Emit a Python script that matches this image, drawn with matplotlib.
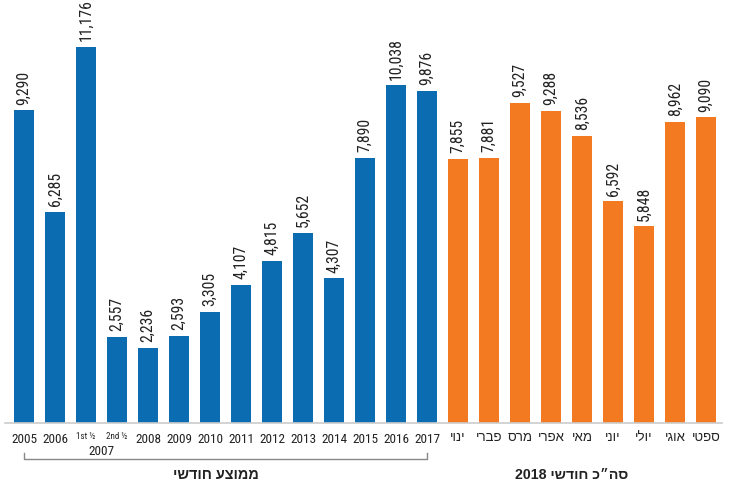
import numpy as np
import matplotlib
matplotlib.use("Agg")
import matplotlib.pyplot as plt
import matplotlib.transforms as mtrans
from matplotlib import font_manager as fm

# monthly averages per year (blue) and 2018 months (orange)
years = ["2005", "2006", "1st ½", "2nd ½", "2008", "2009", "2010", "2011",
         "2012", "2013", "2014", "2015", "2016", "2017"]
avg_vals = [9290, 6285, 11176, 2557, 2236, 2593, 3305, 4107,
            4815, 5652, 4307, 7890, 10038, 9876]
months = ["ינוי", "פברי", "מרס", "אפרי", "מאי", "יוני", "יולי", "אוגי", "ספטי"]
month_vals = [7855, 7881, 9527, 9288, 8536, 6592, 5848, 8962, 9090]
half_year = "2007"
title_avg = "ממוצע חודשי"
title_2018 = "סה״כ חודשי 2018"

BLUE = "#0b6cb2"
ORANGE = "#f47a22"
TXT = "#222222"
HEB = {"family": ["Liberation Sans", "DejaVu Sans"]}


def pick_narrow():
    fl = fm.fontManager.ttflist
    names = {f.name for f in fl}
    for n in ["Roboto Condensed", "Liberation Sans Narrow", "Noto Sans Condensed",
              "Open Sans Condensed", "DejaVu Sans Condensed", "Arial Narrow"]:
        if n in names:
            return {"family": [n, "DejaVu Sans"]}
    for f in fl:
        if "Condensed" in f.name or "Narrow" in f.name:
            return {"family": [f.name, "DejaVu Sans"]}
    return {"family": ["DejaVu Sans"]}


NARROW = pick_narrow()


def vis(s):
    # matplotlib has no bidi, so flip hebrew words into visual order
    out = []
    for w in reversed(s.split(" ")):
        if any("\u0590" <= c <= "\u05ff" for c in w):
            out.append(w[::-1])
        else:
            out.append(w)
    return " ".join(out)


W, H = 734, 486
fig = plt.figure(figsize=(W / 100, H / 100), dpi=100)
renderer = fig.canvas.get_renderer()


def fit(s, px, cap, props, **kw):
    t = fig.text(0, 0, s, fontsize=10, **props, **kw)
    w = t.get_window_extent(renderer).width
    t.remove()
    return min(cap, 10 * px / w)


fs_val = fit("6,592", 34, 12, NARROW)
fs_t1 = fit(vis(title_avg), 86, 12, HEB, fontweight="bold")
fs_t2 = fit(vis(title_2018), 113, 12, HEB, fontweight="bold")
fs_tick = 9.5

base = 423
ax = fig.add_axes([5 / W, (H - base) / H, (722 - 5) / W, base / H])

n1 = len(avg_vals)
x1 = np.arange(n1)
x2 = np.arange(n1, n1 + len(month_vals))
ax.bar(x1, avg_vals, width=0.645, color=BLUE)
ax.bar(x2, month_vals, width=0.645, color=ORANGE)

ax.set_xlim(-19 / 31, (722 - 24) / 31)
ax.set_ylim(0, base / 0.03364)

for xs, vs in ((x1, avg_vals), (x2, month_vals)):
    for x, v in zip(xs, vs):
        ax.annotate(f"{v:,}", (x, v), xytext=(0, 4), textcoords="offset points",
                    rotation=90, ha="center", va="bottom", fontsize=fs_val,
                    color=TXT, **NARROW)

for s in ["top", "right", "left"]:
    ax.spines[s].set_visible(False)
ax.spines["bottom"].set_color("#cccccc")
ax.spines["bottom"].set_linewidth(1.2)
ax.set_yticks([])
ax.set_xticks([])

tr = mtrans.blended_transform_factory(ax.transData, fig.transFigure)


def fy(py):
    return (H - py) / H


for x, lab in zip(x1, years):
    if "½" in lab:
        fig.text(x, fy(436), lab, transform=tr, ha="center", va="center",
                 fontsize=6.5, color=TXT, **NARROW)
    else:
        fig.text(x, fy(439), lab, transform=tr, ha="center", va="center",
                 fontsize=fs_tick, color=TXT, **NARROW)
fig.text((x1[2] + x1[3]) / 2, fy(451), half_year, transform=tr, ha="center",
         va="center", fontsize=fs_tick, color=TXT, **NARROW)

for x, lab in zip(x2, months):
    fig.text(x, fy(438), vis(lab), transform=tr, ha="center", va="center",
             fontsize=9.5, color=TXT, **HEB)

# bracket under the yearly averages
fig.add_artist(plt.Line2D([x1[0], x1[0], x1[-1], x1[-1]],
                          [fy(453), fy(459), fy(459), fy(453)],
                          transform=tr, color="#888888", lw=1))

fig.text(6.2, fy(475), vis(title_avg), transform=tr, ha="center", va="center",
         fontsize=fs_t1, fontweight="bold", color=TXT, **HEB)
fig.text(17.65, fy(475), vis(title_2018), transform=tr, ha="center",
         va="center", fontsize=fs_t2, fontweight="bold", color=TXT, **HEB)

fig.savefig("out.png", dpi=100)
